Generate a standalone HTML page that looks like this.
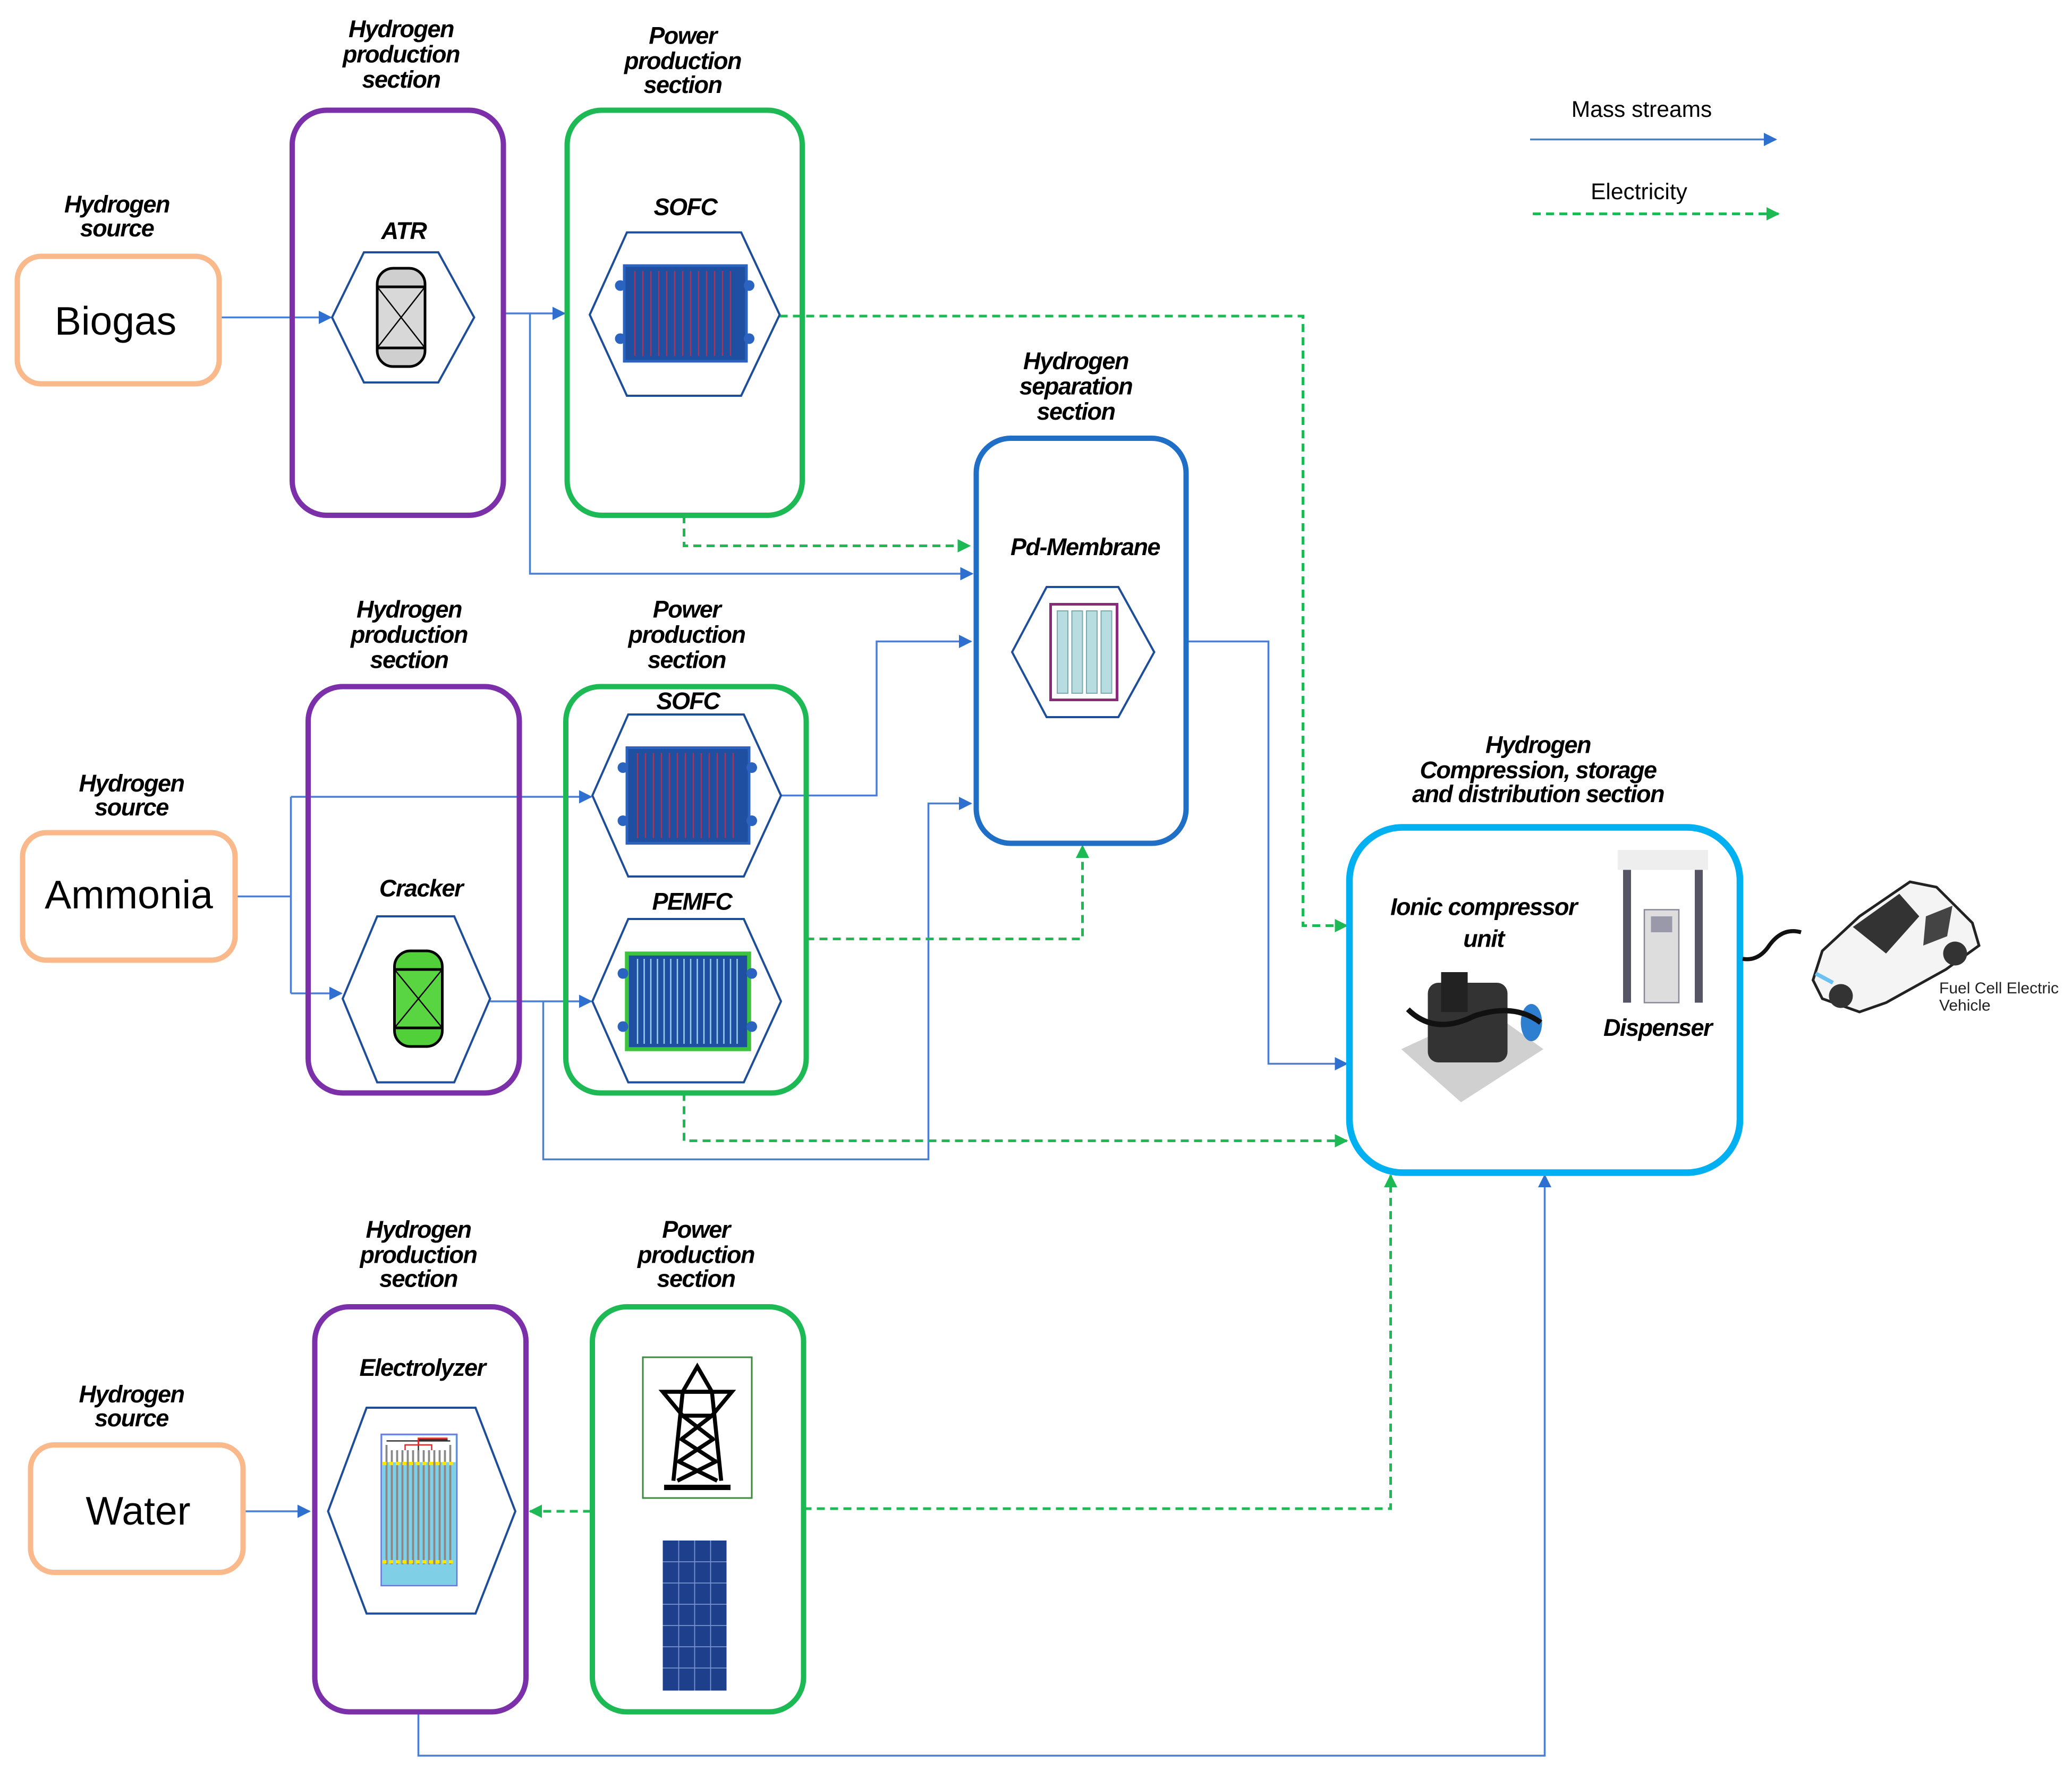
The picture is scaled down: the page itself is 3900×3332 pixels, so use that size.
<!DOCTYPE html>
<html><head><meta charset="utf-8"><style>
html,body{margin:0;padding:0;background:#fff}
svg{display:block}
.t{font-family:"Liberation Sans",sans-serif;font-weight:bold;font-style:italic;font-size:18px;text-anchor:middle;letter-spacing:-0.6px;fill:#000}
.big{font-family:"Liberation Sans",sans-serif;font-size:30px;text-anchor:middle;fill:#000}
.leg{font-family:"Liberation Sans",sans-serif;font-size:17px;text-anchor:middle;fill:#000}
.b{fill:none;stroke:#4A7FD4;stroke-width:1.4}
.g{fill:none;stroke:#1DB954;stroke-width:2;stroke-dasharray:6,4}
.hex{fill:#fff;stroke:#1F4E99;stroke-width:1.6}
</style></head><body>
<svg width="3900" height="3332" viewBox="0 0 1560 1332.8" xmlns="http://www.w3.org/2000/svg">
<defs>
<marker id="ab" markerWidth="10" markerHeight="10" refX="9" refY="5" orient="auto" markerUnits="userSpaceOnUse"><path d="M0,0 L10,5 L0,10 Z" fill="#2F6FD0"/></marker>
<marker id="ag" markerWidth="10" markerHeight="10" refX="9" refY="5" orient="auto" markerUnits="userSpaceOnUse"><path d="M0,0 L10,5 L0,10 Z" fill="#1DB954"/></marker>
</defs>

<!-- legend -->
<text class="leg" x="1236" y="88">Mass streams</text>
<line class="b" x1="1152" y1="105" x2="1337" y2="105" marker-end="url(#ab)"/>
<text class="leg" x="1234" y="150">Electricity</text>
<line class="g" x1="1154" y1="161" x2="1339" y2="161" marker-end="url(#ag)"/>

<!-- connectors -->
<polyline class="b" points="165,239 249,239" marker-end="url(#ab)"/>
<polyline class="b" points="379,236 425,236" marker-end="url(#ab)"/>
<polyline class="b" points="399,236 399,432 732,432" marker-end="url(#ab)"/>
<polyline class="g" points="587,238 981,238 981,697 1014,697" marker-end="url(#ag)"/>
<polyline class="g" points="515,388 515,411 730,411" marker-end="url(#ag)"/>
<polyline class="b" points="893,483 955,483 955,801 1014,801" marker-end="url(#ab)"/>
<polyline class="b" points="177,675 219,675"/>
<polyline class="b" points="219,600 219,748"/>
<polyline class="b" points="219,600 445,600" marker-end="url(#ab)"/>
<polyline class="b" points="219,748 257,748" marker-end="url(#ab)"/>
<polyline class="b" points="369,754 445,754" marker-end="url(#ab)"/>
<polyline class="b" points="409,754 409,873 699,873 699,605 731,605" marker-end="url(#ab)"/>
<polyline class="b" points="588,599 660,599 660,483 731,483" marker-end="url(#ab)"/>
<polyline class="g" points="607,707 815,707 815,637" marker-end="url(#ag)"/>
<polyline class="g" points="515,823 515,859 1014,859" marker-end="url(#ag)"/>
<polyline class="b" points="183,1138 233,1138" marker-end="url(#ab)"/>
<polyline class="g" points="445,1138 399,1138" marker-end="url(#ag)"/>
<polyline class="g" points="605,1136 1047,1136 1047,885" marker-end="url(#ag)"/>
<polyline class="b" points="315,1289 315,1322 1163,1322 1163,885" marker-end="url(#ab)"/>

<!-- source boxes -->
<rect x="13" y="193" width="152" height="96" rx="18" fill="#fff" stroke="#F9B98A" stroke-width="4"/>
<text class="big" x="87" y="252">Biogas</text>
<text class="t" x="88" y="160">Hydrogen</text><text class="t" x="88" y="178">source</text>
<rect x="17" y="627" width="160" height="96" rx="18" fill="#fff" stroke="#F9B98A" stroke-width="4"/>
<text class="big" x="97" y="684">Ammonia</text>
<text class="t" x="99" y="596">Hydrogen</text><text class="t" x="99" y="614">source</text>
<rect x="23" y="1088" width="160" height="96" rx="18" fill="#fff" stroke="#F9B98A" stroke-width="4"/>
<text class="big" x="104" y="1148">Water</text>
<text class="t" x="99" y="1056">Hydrogen</text><text class="t" x="99" y="1074">source</text>

<!-- row1 purple -->
<rect x="220" y="83" width="159" height="305" rx="26" fill="none" stroke="#7B2FA8" stroke-width="4"/>
<text class="t" x="302" y="28">Hydrogen</text><text class="t" x="302" y="47">production</text><text class="t" x="302" y="66">section</text>
<text class="t" x="304" y="180">ATR</text>
<polygon class="hex" points="250,239 274,190 330,190 357,239 330,288 274,288"/>
<rect x="284" y="202" width="36" height="74" rx="12" fill="#cfcfcf" stroke="#000" stroke-width="2"/>
<rect x="284" y="216" width="36" height="46" fill="#d8d8d8" stroke="#000" stroke-width="2"/>
<path d="M284,216 L320,262 M320,216 L284,262" stroke="#000" stroke-width="1"/>

<!-- row1 green -->
<rect x="427" y="83" width="177" height="305" rx="26" fill="none" stroke="#1DB954" stroke-width="4"/>
<text class="t" x="514" y="33">Power</text><text class="t" x="514" y="52">production</text><text class="t" x="514" y="70">section</text>
<text class="t" x="516" y="162">SOFC</text>
<polygon class="hex" points="444,237 472,175 558,175 587,237 558,298 472,298"/>
<g>
<rect x="470" y="200" width="92" height="72" fill="#1F4FA0" stroke="#2B63C0" stroke-width="2"/>
<path d="M478,204 V268 M484,204 V268 M490,204 V268 M496,204 V268 M502,204 V268 M508,204 V268 M514,204 V268 M520,204 V268 M526,204 V268 M532,204 V268 M538,204 V268 M544,204 V268 M550,204 V268" stroke="#B03050" stroke-width="1"/>
<circle cx="467" cy="215" r="4" fill="#2B63C0"/><circle cx="467" cy="255" r="4" fill="#2B63C0"/><circle cx="564" cy="215" r="4" fill="#2B63C0"/><circle cx="564" cy="255" r="4" fill="#2B63C0"/>
</g>

<!-- Pd membrane -->
<rect x="735" y="330" width="158" height="305" rx="26" fill="none" stroke="#1F6FC6" stroke-width="4"/>
<text class="t" x="810" y="278">Hydrogen</text><text class="t" x="810" y="297">separation</text><text class="t" x="810" y="316">section</text>
<text class="t" x="817" y="418">Pd-Membrane</text>
<polygon class="hex" points="762,491 788,442 842,442 869,491 842,540 788,540"/>
<rect x="791" y="455" width="50" height="72" fill="#fff" stroke="#8B2A7A" stroke-width="2"/>
<g fill="#B7DDE0" stroke="#7AAAB0" stroke-width="0.8"><rect x="796" y="460" width="8" height="62"/><rect x="807" y="460" width="8" height="62"/><rect x="818" y="460" width="8" height="62"/><rect x="829" y="460" width="8" height="62"/></g>

<!-- row2 purple -->
<rect x="232" y="517" width="159" height="306" rx="26" fill="none" stroke="#7B2FA8" stroke-width="4"/>
<text class="t" x="308" y="465">Hydrogen</text><text class="t" x="308" y="484">production</text><text class="t" x="308" y="503">section</text>
<text class="t" x="317" y="675">Cracker</text>
<polygon class="hex" points="258,752 284,690 342,690 369,752 342,815 284,815"/>
<rect x="297" y="716" width="36" height="72" rx="12" fill="#52D03A" stroke="#000" stroke-width="2"/>
<rect x="297" y="730" width="36" height="44" fill="#5AD542" stroke="#000" stroke-width="2"/>
<path d="M297,730 L333,774 M333,730 L297,774" stroke="#000" stroke-width="1"/>

<!-- row2 green -->
<rect x="426" y="517" width="181" height="306" rx="26" fill="none" stroke="#1DB954" stroke-width="4"/>
<text class="t" x="517" y="465">Power</text><text class="t" x="517" y="484">production</text><text class="t" x="517" y="503">section</text>
<text class="t" x="518" y="534">SOFC</text>
<polygon class="hex" points="446,599 473,538 560,538 588,599 560,660 473,660"/>
<rect x="472" y="563" width="92" height="72" fill="#1F4FA0" stroke="#2B63C0" stroke-width="2"/>
<path d="M480,567 V631 M486,567 V631 M492,567 V631 M498,567 V631 M504,567 V631 M510,567 V631 M516,567 V631 M522,567 V631 M528,567 V631 M534,567 V631 M540,567 V631 M546,567 V631 M552,567 V631" stroke="#B03050" stroke-width="1"/>
<circle cx="469" cy="578" r="4" fill="#2B63C0"/><circle cx="469" cy="618" r="4" fill="#2B63C0"/><circle cx="566" cy="578" r="4" fill="#2B63C0"/><circle cx="566" cy="618" r="4" fill="#2B63C0"/>
<text class="t" x="521" y="685">PEMFC</text>
<polygon class="hex" points="446,754 473,692 560,692 588,754 560,815 473,815"/>
<rect x="472" y="718" width="92" height="72" fill="#1F4FA0" stroke="#3CC43C" stroke-width="3"/>
<path d="M480,722 V786 M485,722 V786 M490,722 V786 M495,722 V786 M500,722 V786 M505,722 V786 M510,722 V786 M515,722 V786 M520,722 V786 M525,722 V786 M530,722 V786 M535,722 V786 M540,722 V786 M545,722 V786 M550,722 V786 M555,722 V786" stroke="#9AD0F0" stroke-width="1"/>
<circle cx="469" cy="733" r="4" fill="#2B63C0"/><circle cx="469" cy="773" r="4" fill="#2B63C0"/><circle cx="566" cy="733" r="4" fill="#2B63C0"/><circle cx="566" cy="773" r="4" fill="#2B63C0"/>

<!-- compression section -->
<rect x="1016" y="623" width="294" height="260" rx="40" fill="none" stroke="#00B0F0" stroke-width="5"/>
<text class="t" x="1158" y="567">Hydrogen</text><text class="t" x="1158" y="586">Compression, storage</text><text class="t" x="1158" y="604">and distribution section</text>
<text class="t" x="1117" y="689">Ionic compressor</text><text class="t" x="1117" y="713">unit</text>
<text class="t" x="1248" y="780">Dispenser</text>
<!-- compressor -->
<polygon points="1055,790 1120,760 1162,790 1100,830" fill="#d0d0d0"/>
<rect x="1075" y="740" width="60" height="60" rx="8" fill="#333"/>
<rect x="1085" y="732" width="20" height="30" fill="#222"/>
<ellipse cx="1153" cy="770" rx="8" ry="14" fill="#2F7FD0"/>
<path d="M1060,760 q20,20 50,5 q30,-10 50,5" stroke="#111" stroke-width="4" fill="none"/>
<!-- dispenser -->
<rect x="1218" y="640" width="68" height="15" fill="#eee"/>
<rect x="1222" y="655" width="6" height="100" fill="#556"/><rect x="1276" y="655" width="6" height="100" fill="#556"/>
<rect x="1238" y="685" width="26" height="70" fill="#ddd" stroke="#889" stroke-width="1"/>
<rect x="1243" y="690" width="16" height="12" fill="#99a"/>
<!-- car hose -->
<path d="M1312,722 q12,2 20,-10 q10,-14 24,-10" stroke="#111" stroke-width="3" fill="none"/>
<!-- car -->
<path d="M1365,738 L1372,716 L1400,690 L1438,664 L1458,668 L1485,695 L1490,712 L1465,730 L1420,755 L1400,762 L1372,752 Z" fill="#f4f4f4" stroke="#222" stroke-width="2"/>
<path d="M1395,698 L1430,673 L1445,690 L1420,718 Z" fill="#333"/>
<path d="M1450,690 L1470,682 L1466,705 L1448,712 Z" fill="#444"/>
<circle cx="1386" cy="750" r="9" fill="#333"/><circle cx="1472" cy="718" r="9" fill="#333"/>
<path d="M1367,733 L1380,740" stroke="#6BC2F0" stroke-width="3"/>
<text x="1460" y="748" font-family="Liberation Sans,sans-serif" font-size="12" fill="#222">Fuel Cell Electric</text>
<text x="1460" y="761" font-family="Liberation Sans,sans-serif" font-size="12" fill="#222">Vehicle</text>

<!-- row3 purple -->
<rect x="237" y="984" width="159" height="305" rx="26" fill="none" stroke="#7B2FA8" stroke-width="4"/>
<text class="t" x="315" y="932">Hydrogen</text><text class="t" x="315" y="951">production</text><text class="t" x="315" y="969">section</text>
<text class="t" x="318" y="1036">Electrolyzer</text>
<polygon class="hex" points="247,1138 276,1060 358,1060 388,1138 358,1215 276,1215"/>
<rect x="287" y="1080" width="57" height="114" fill="#7FD0E6" stroke="#6677DD" stroke-width="1"/>
<rect x="288" y="1081" width="55" height="20" fill="#fff"/>
<path d="M291,1088 V1178 M295,1092 V1178 M299,1092 V1178 M303,1092 V1178 M307,1092 V1178 M311,1092 V1178 M315,1092 V1178 M319,1092 V1178 M323,1092 V1178 M327,1092 V1178 M331,1092 V1178 M335,1092 V1178 M339,1088 V1178" stroke="#888" stroke-width="1.5"/>
<path d="M288,1102 H343 M288,1176 H343" stroke="#FFE600" stroke-width="2.5" stroke-dasharray="3,2"/>
<path d="M291,1085 H339 M315,1092 V1084 H337" stroke="#333" stroke-width="1" fill="none"/>
<path d="M305,1092 V1088 H325 V1092 M315,1088 V1083 H337" stroke="#e22" stroke-width="1" fill="none"/>

<!-- row3 green -->
<rect x="446" y="984" width="159" height="305" rx="26" fill="none" stroke="#1DB954" stroke-width="4"/>
<text class="t" x="524" y="932">Power</text><text class="t" x="524" y="951">production</text><text class="t" x="524" y="969">section</text>
<rect x="484" y="1022" width="82" height="106" fill="#fff" stroke="#3C8A3C" stroke-width="1.2"/>
<g stroke="#000" stroke-width="3" fill="none">
<path d="M525,1029 L514,1048 L536,1048 Z"/>
<path d="M499,1048 H551 L536,1066 H514 Z"/>
<path d="M514,1048 L507,1115 M536,1048 L543,1115"/>
<path d="M514,1066 L536,1083 M536,1066 L514,1083 M512,1083 L538,1100 M538,1083 L512,1100 M510,1100 L540,1115 M540,1100 L510,1115"/>
<path d="M500,1120 H550" stroke-width="4"/>
</g>
<rect x="499" y="1160" width="48" height="113" fill="#1E3F8C"/>
<path d="M499,1176 H547 M499,1192 H547 M499,1208 H547 M499,1224 H547 M499,1240 H547 M499,1256 H547 M511,1160 V1273 M523,1160 V1273 M535,1160 V1273" stroke="#7A94CC" stroke-width="0.7"/>
</svg>
</body></html>
